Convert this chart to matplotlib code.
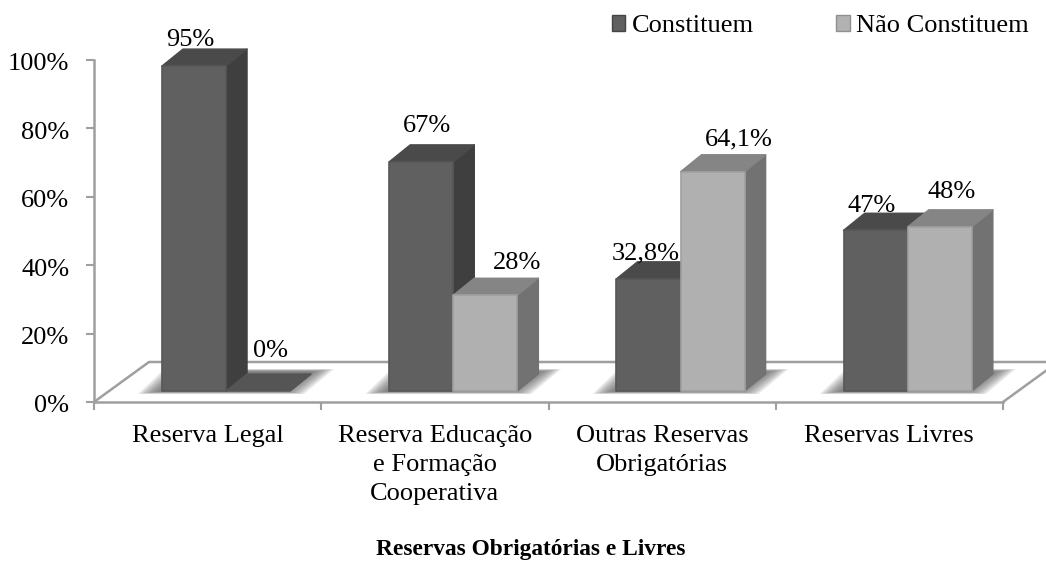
#!/usr/bin/env python3
# -*- coding: utf-8 -*-
"""
Reservas Obrigatórias e Livres - barras com efeito 3D
"""
import numpy as np
import matplotlib
matplotlib.use('Agg')
import matplotlib.pyplot as plt
from matplotlib.patches import Polygon, Patch
from matplotlib.transforms import IdentityTransform, Affine2D

plt.rcParams['font.family'] = ['Liberation Serif', 'DejaVu Serif']

categories = ['Reserva Legal', 'Reserva Educação\ne Formação\nCooperativa',
              'Outras Reservas\nObrigatórias', 'Reservas Livres']
constituem = [95, 67, 32.8, 47]
nao_constituem = [0, 28, 64.1, 48]
labels_const = ['95%', '67%', '32,8%', '47%']
labels_nao = ['0%', '28%', '64,1%', '48%']
y_ticks = [0, 20, 40, 60, 80, 100]

W, H = 1046, 562
GRAY = '#9f9f9f'
# profundidade das barras e do chao em pixels
BAR_DX, BAR_DY = 21, 17
FLOOR_DX, FLOOR_DY = 55, 40
BASE_UP = 11
BAR_W = 0.282
OFF_1, OFF_2 = 0.299, 0.581

fig = plt.figure(figsize=(W / 100, H / 100), dpi=100)
ax = fig.add_axes([94 / W, (H - 402) / H, 909 / W, 342 / H])
ax.set_xlim(0, 4)
ax.set_ylim(0, 100)
ax.patch.set_alpha(0)
for s in ['top', 'right']:
    ax.spines[s].set_visible(False)
for s in ['left', 'bottom']:
    ax.spines[s].set_color(GRAY)
    ax.spines[s].set_linewidth(1.8)

ax.set_yticks(y_ticks)
ax.set_yticklabels(['%d%%' % v for v in y_ticks], fontsize=19)
ax.set_xticks(range(5))
ax.set_xticklabels([])
ax.tick_params(axis='both', which='major', color=GRAY, width=1.5, length=5.5)
ax.tick_params(axis='y', pad=12.3)
for lab in ax.get_yticklabels():
    lab.set_transform(lab.get_transform() + Affine2D().translate(0, -2))
ax.set_xticks([0.5, 1.5, 2.5, 3.5], minor=True)
ax.set_xticklabels(categories, minor=True, fontsize=19, linespacing=1.42)
ax.tick_params(axis='x', which='minor', length=0, pad=16.5)


def px(x, y):
    return ax.transData.transform((x, y))


def poly(points, **kw):
    p = Polygon(points, closed=True, transform=IdentityTransform(), clip_on=False, **kw)
    ax.add_patch(p)
    return p


# chao
p00 = px(0, 0)
p40 = px(4, 0)
back = [(p00[0], p00[1]), (p00[0] + FLOOR_DX, p00[1] + FLOOR_DY),
        (p40[0] + FLOOR_DX, p40[1] + FLOOR_DY), (p40[0], p40[1])]
ax.plot(*zip(*back), transform=IdentityTransform(), color=GRAY, lw=1.8, clip_on=False, zorder=1)


def shadow(x0, x1):
    base = px(x0, 0)[1] + BASE_UP - 3
    left = px(x0, 0)[0]
    right = px(x1, 0)[0]
    for k in range(12):
        ins = k * 2.0
        top = base + BAR_DY + 8 - k * 0.25
        poly([(left - 24 + ins, base + k * 0.25), (right + 14 - ins, base + k * 0.25),
              (right + 44 - ins, top), (left + 2 + ins, top)],
             facecolor='#5a5a5a', edgecolor='none', alpha=0.11, zorder=1.5)


def bar3d(x, w, v, front, side, top, edge, z):
    x0, y0 = px(x, 0)
    x1, y1 = px(x + w, v)
    y0 += BASE_UP
    y1 += BASE_UP
    poly([(x1, y0), (x1 + BAR_DX, y0 + BAR_DY), (x1 + BAR_DX, y1 + BAR_DY), (x1, y1)],
         facecolor=side, edgecolor=side, lw=1.0, joinstyle='round', zorder=z)
    poly([(x0, y1), (x1, y1), (x1 + BAR_DX, y1 + BAR_DY), (x0 + BAR_DX, y1 + BAR_DY)],
         facecolor=top, edgecolor=top, lw=1.0, joinstyle='round', zorder=z)
    if v > 0:
        poly([(x0, y0), (x1, y0), (x1, y1), (x0, y1)],
             facecolor=front, edgecolor=edge, lw=1.2, joinstyle='round', zorder=z + 0.1)


for i in range(len(categories)):
    shadow(i + OFF_1, i + OFF_2 + BAR_W)
for i in range(len(categories)):
    bar3d(i + OFF_1, BAR_W, constituem[i], '#606060', '#3f3f3f', '#4a4a4a', '#575757', 2 + i)
    # barra zero fica so com o topo, escuro no original
    top2 = '#858585' if nao_constituem[i] > 0 else '#555555'
    bar3d(i + OFF_2, BAR_W, nao_constituem[i], '#b0b0b0', '#727272', top2, '#a0a0a0', 2.5 + i)

# rotulos: deslocamento em pixels ao centro/topo de cada barra, ajustados a mao
offs_1 = [(-4, 26), (6, 36), (-3, 25), (-4, 24)]
offs_2 = [(12, 40), (32, 32), (26, 32), (12, 35)]
for i in range(len(categories)):
    for off, w_off, vals, labs in ((offs_1, OFF_1, constituem, labels_const),
                                   (offs_2, OFF_2, nao_constituem, labels_nao)):
        x, y = px(i + w_off + BAR_W / 2, vals[i])
        ax.text(x + off[i][0], y + BASE_UP + off[i][1], labs[i], transform=IdentityTransform(),
                ha='center', va='center', fontsize=19, color='black', zorder=20, clip_on=False)

handles = [Patch(facecolor='#606060', edgecolor='#444444', label='Constituem'),
           Patch(facecolor='#b2b2b2', edgecolor='#8f8f8f', label='Não Constituem')]
fig.legend(handles=handles, ncol=2, loc='upper right', bbox_to_anchor=(1034 / W, 1 - 10 / H),
           frameon=False, fontsize=19, handlelength=0.52, handleheight=0.52,
           handletextpad=0.23, columnspacing=3.13, borderpad=0.2, borderaxespad=0)

fig.text(531 / W, 1 - 549 / H, 'Reservas Obrigatórias e Livres', ha='center', va='center',
         fontsize=16.8, fontweight='bold')

fig.savefig('out.png', dpi=100)
